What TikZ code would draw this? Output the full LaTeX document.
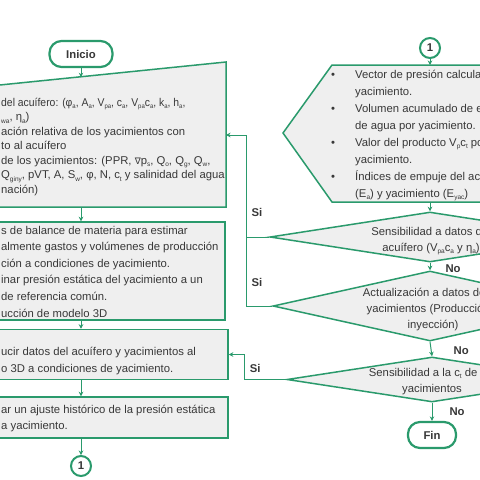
\documentclass[tikz,border=0pt]{standalone}
\usepackage{fontspec}
\setmainfont{Liberation Sans}
\newfontfamily\symfont{DejaVu Sans}
\definecolor{FlowGreen}{HTML}{2A9A6C}
\definecolor{FlowGray}{HTML}{EFEFEF}
\definecolor{FlowText}{HTML}{383838}
\newcommand{\subi}[1]{\raisebox{-0.35ex}{\fontsize{6.5}{7}\selectfont #1}}
\newcommand{\nablasym}{{\symfont\small ∇}}
\usetikzlibrary{shapes.geometric, arrows.meta, positioning, calc}

\begin{document}
\begin{tikzpicture}[x=1pt, y=-1pt,
        box/.style={draw=FlowGreen, fill=FlowGray, line width=1.5pt, inner sep=0pt},
        shp/.style={draw=FlowGreen, fill=FlowGray, line width=1.5pt},
        txt/.style={inner sep=0pt, align=left, text=FlowText},
        dtxt/.style={inner sep=0pt, align=center, text=FlowText, font=\fontsize{11.3}{16}\selectfont},
        term/.style={draw=FlowGreen, fill=white, rounded corners=12pt, line width=2.2pt, minimum width=63pt, minimum height=26pt, font=\fontsize{11.3}{13}\selectfont\bfseries, text=FlowText},
        conn/.style={circle, draw=FlowGreen, fill=white, line width=2pt, minimum size=20pt, inner sep=0pt, font=\fontsize{11.3}{13}\selectfont\bfseries, text=FlowText},
        dec/.style={diamond, draw=FlowGreen, fill=FlowGray, line width=1.5pt, inner sep=0pt},
        arr/.style={-{Stealth[length=4.5pt, width=4.5pt]}, line width=1pt, FlowGreen},
        line/.style={line width=1pt, FlowGreen},
        lbl/.style={font=\fontsize{11.3}{13}\selectfont\bfseries, text=FlowText, inner sep=0pt}
    ]
        \useasboundingbox (0,0) rectangle (480,480);
        \fill[white] (0,0) rectangle (480,480);

        \node[term] (s0) at (81,54) {Inicio};
        \filldraw[shp] (-10,86) -- (226,62) -- (226,207) -- (-10,207) -- cycle;
        \coordinate (b1n) at (81,77.2);
        \coordinate (b1e) at (226,135);
        \coordinate (b1s) at (81,207);
        \node[txt, anchor=west, font=\fontsize{11.3}{14.5}\selectfont] (t1) at (1,147) {\scalebox{0.92}[1]{del acuífero: (φ\subi{a}, A\subi{a}, V\subi{pa}, c\subi{a}, V\subi{pa}c\subi{a}, k\subi{a}, h\subi{a},}\\
            \subi{wa}, η\subi{a})\\
            ación relativa de los yacimientos con\\
            to al acuífero\\
            de los yacimientos: (PPR, \nablasym p\subi{s}, Q\subi{o}, Q\subi{g}, Q\subi{w},\\
            Q\subi{giny}, pVT, A, S\subi{w}, φ, N, c\subi{t} y salinidad del agua\\
            nación)};

        \node[box, minimum width=235pt, minimum height=98pt] (b2) at (107.5,271) {};
        \node[txt, anchor=west, font=\fontsize{11.3}{16.6}\selectfont] (t2) at (1,271.5) {s de balance de materia para estimar\\
            almente gastos y volúmenes de producción\\
            ción a condiciones de yacimiento.\\
            inar presión estática del yacimiento a un\\
            de referencia común.\\
            ucción de modelo 3D};

        \node[box, minimum width=238pt, minimum height=50pt] (b3) at (109,354.5) {};
        \node[txt, anchor=west, font=\fontsize{11.3}{16.5}\selectfont] (t3) at (1,361) {ucir datos del acuífero y yacimientos al\\
            o 3D a condiciones de yacimiento.};

        \node[box, minimum width=238pt, minimum height=41pt] (b4) at (109,417.5) {};
        \node[txt, anchor=west, font=\fontsize{11.3}{16.5}\selectfont] (t4) at (1,418.5) {ar un ajuste histórico de la presión estática\\
            a yacimiento.};

        \node[conn] (c1) at (81,466) {1};

        \draw[arr] (s0) -- (b1n);
        \draw[arr] (b1s) -- (b2.north -| b1s);
        \draw[arr] (b2.south -| b1s) -- (b3.north -| b1s);
        \draw[arr] (b3.south -| b1s) -- (b4.north -| b1s);
        \draw[arr] (b4.south -| b1s) -- (c1);

        \node[conn] (c2) at (430,48) {1};
        \filldraw[shp] (283,133) -- (332,65) -- (495,65) -- (495,202) -- (332,202) -- cycle;
        \coordinate (dspn) at (430,65);
        \coordinate (dsps) at (430,202);
        \node[txt, anchor=west, font=\fontsize{11.3}{17}\selectfont] (t5) at (331,135.5) {\makebox[24pt][l]{\textbullet}Vector de presión calculado\\
            \hspace*{24pt}yacimiento.\\
            \makebox[24pt][l]{\textbullet}Volumen acumulado de entrada\\
            \hspace*{24pt}de agua por yacimiento.\\
            \makebox[24pt][l]{\textbullet}Valor del producto V\subi{p}c\subi{t} por\\
            \hspace*{24pt}yacimiento.\\
            \makebox[24pt][l]{\textbullet}Índices de empuje del acuífero\\
            \hspace*{24pt}(E\subi{a}) y yacimiento (E\subi{yac})};

        \node[dec, minimum width=320pt, minimum height=50pt] (d1) at (430,237) {};
        \node[dtxt] (t6) at (431,241) {Sensibilidad a datos del\\acuífero (V\subi{pa}c\subi{a} y η\subi{a})};
        \node[dec, minimum width=314pt, minimum height=70pt] (d2) at (430,306) {};
        \node[dtxt] (t7) at (433,310) {Actualización a datos de los\\yacimientos (Producción e\\inyección)};
        \node[dec, minimum width=290pt, minimum height=45pt] (d3) at (432,379.5) {};
        \node[dtxt] (t8) at (432,381.5) {Sensibilidad a la c\subi{t} de los\\yacimientos};
        \node[term, minimum width=48pt] (s1) at (432,435) {Fin};

        \draw[arr] (c2) -- (dspn);
        \draw[arr] (dsps) -- (d1.north);
        \draw[arr] (d1.south) -- node[lbl, pos=0.8, right=15pt] {No} (d2.north);
        \draw[arr] (d2.south) -- node[lbl, pos=0.6, right=22pt] {No} (d3.north);
        \draw[arr] (d3.south) -- node[lbl, pos=0.5, right=17pt] {No} (s1.north);

        \coordinate (j1) at (246,237);
        \draw[arr] (d1.west) -- (j1) |- node[lbl, pos=0.12, right=5pt] {Si} (b1e);
        \draw[line] (d2.west) -| node[lbl, pos=0.67, right=5pt] {Si} (j1);
        \draw[arr] (d3.west) -- ++(-42,0) |- node[lbl, pos=0.22, right=5pt] {Si} (b3.east);
    \end{tikzpicture}
\end{document}
